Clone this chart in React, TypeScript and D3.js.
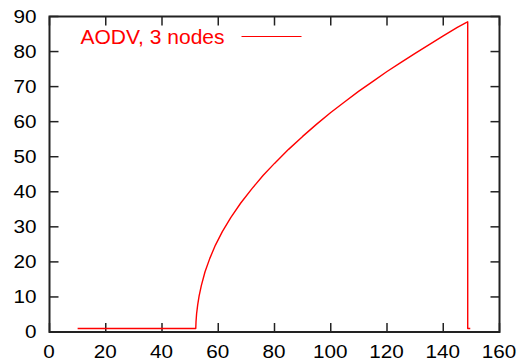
import { useRef, useEffect } from 'react';
import * as d3 from 'd3';

// AODV, 3 nodes
const xValues = [10, 52, 52.1, 52.3, 52.7, 53.2, 54, 55.3, 57, 59, 61.5, 64.5, 68, 72, 76, 80, 85, 90, 95, 100, 105, 110, 115, 120, 125, 130, 135, 140, 145, 148.3, 148.7, 148.7, 149.6];
const yValues = [1, 1, 3.0, 5.2, 7.8, 10.3, 13.3, 17.2, 21.0, 24.8, 28.7, 32.7, 36.8, 40.9, 44.7, 48.1, 52.1, 55.8, 59.3, 62.6, 65.7, 68.7, 71.5, 74.3, 76.9, 79.5, 82.0, 84.5, 86.9, 88.3, 88.5, 1, 1];
const xTicks = [0, 20, 40, 60, 80, 100, 120, 140, 160];
const yTicks = [0, 10, 20, 30, 40, 50, 60, 70, 80, 90];
const seriesName = 'AODV, 3 nodes';

const W = 521;
const H = 362;
const margin = { left: 49.5, right: 21.5, top: 16.5, bottom: 30 };

export default function App() {
  const ref = useRef<SVGSVGElement>(null);

  useEffect(() => {
    if (!ref.current) return;
    const svg = d3.select(ref.current);
    svg.selectAll('*').remove();

    const x = d3.scaleLinear().domain([0, 160]).range([margin.left, W - margin.right]);
    const y = d3.scaleLinear().domain([0, 90]).range([H - margin.bottom, margin.top]);

    const axisColor = '#222';
    const tickLen = 9;
    const fs = 18;
    const sx = 1.15;

    const g = svg.append('g');

    // ticks, mirrored on all sides, pointing inward
    xTicks.forEach((t) => {
      g.append('line')
        .attr('x1', x(t)).attr('x2', x(t))
        .attr('y1', y(0)).attr('y2', y(0) - tickLen)
        .attr('stroke', axisColor).attr('stroke-width', 1.5);
      g.append('line')
        .attr('x1', x(t)).attr('x2', x(t))
        .attr('y1', y(90)).attr('y2', y(90) + tickLen)
        .attr('stroke', axisColor).attr('stroke-width', 1.5);
      g.append('text')
        .attr('transform', `translate(${x(t) - 0.5},${H - 4.5}) scale(${sx},1)`)
        .attr('text-anchor', 'middle')
        .attr('font-family', 'Liberation Sans, Arial, sans-serif')
        .attr('font-size', fs)
        .attr('fill', '#000')
        .text(t);
    });

    yTicks.forEach((t) => {
      g.append('line')
        .attr('x1', x(0)).attr('x2', x(0) + tickLen)
        .attr('y1', y(t)).attr('y2', y(t))
        .attr('stroke', axisColor).attr('stroke-width', 1.5);
      g.append('line')
        .attr('x1', x(160)).attr('x2', x(160) - tickLen)
        .attr('y1', y(t)).attr('y2', y(t))
        .attr('stroke', axisColor).attr('stroke-width', 1.5);
      g.append('text')
        .attr('transform', `translate(${x(0) - 13},${y(t) + 0.358 * fs}) scale(${sx},1)`)
        .attr('text-anchor', 'end')
        .attr('font-family', 'Liberation Sans, Arial, sans-serif')
        .attr('font-size', fs)
        .attr('fill', '#000')
        .text(t);
    });

    // frame
    g.append('rect')
      .attr('x', x(0)).attr('y', y(90))
      .attr('width', x(160) - x(0)).attr('height', y(0) - y(90))
      .attr('fill', 'none')
      .attr('stroke', axisColor)
      .attr('stroke-width', 2);

    // series
    const pts: [number, number][] = xValues.map((v, i) => [v, yValues[i]]);
    const line = d3.line<[number, number]>()
      .x((d) => x(d[0]))
      .y((d) => y(d[1]));
    g.append('path')
      .datum(pts)
      .attr('d', line)
      .attr('fill', 'none')
      .attr('stroke', '#ff0000')
      .attr('stroke-width', 1.4)
      .attr('stroke-linejoin', 'round');

    // key
    g.append('text')
      .attr('x', 80.5).attr('y', 44)
      .attr('font-family', 'Liberation Sans, Arial, sans-serif')
      .attr('font-size', 21)
      .attr('fill', '#ff0000')
      .text(seriesName);
    g.append('line')
      .attr('x1', 241.5).attr('x2', 301.5)
      .attr('y1', 36.5).attr('y2', 36.5)
      .attr('stroke', '#ff0000')
      .attr('stroke-width', 1.2);
  }, []);

  return (
    <svg
      ref={ref}
      width={W}
      height={H}
      style={{ position: 'absolute', left: 0, top: 0, background: '#fff' }}
    />
  );
}
